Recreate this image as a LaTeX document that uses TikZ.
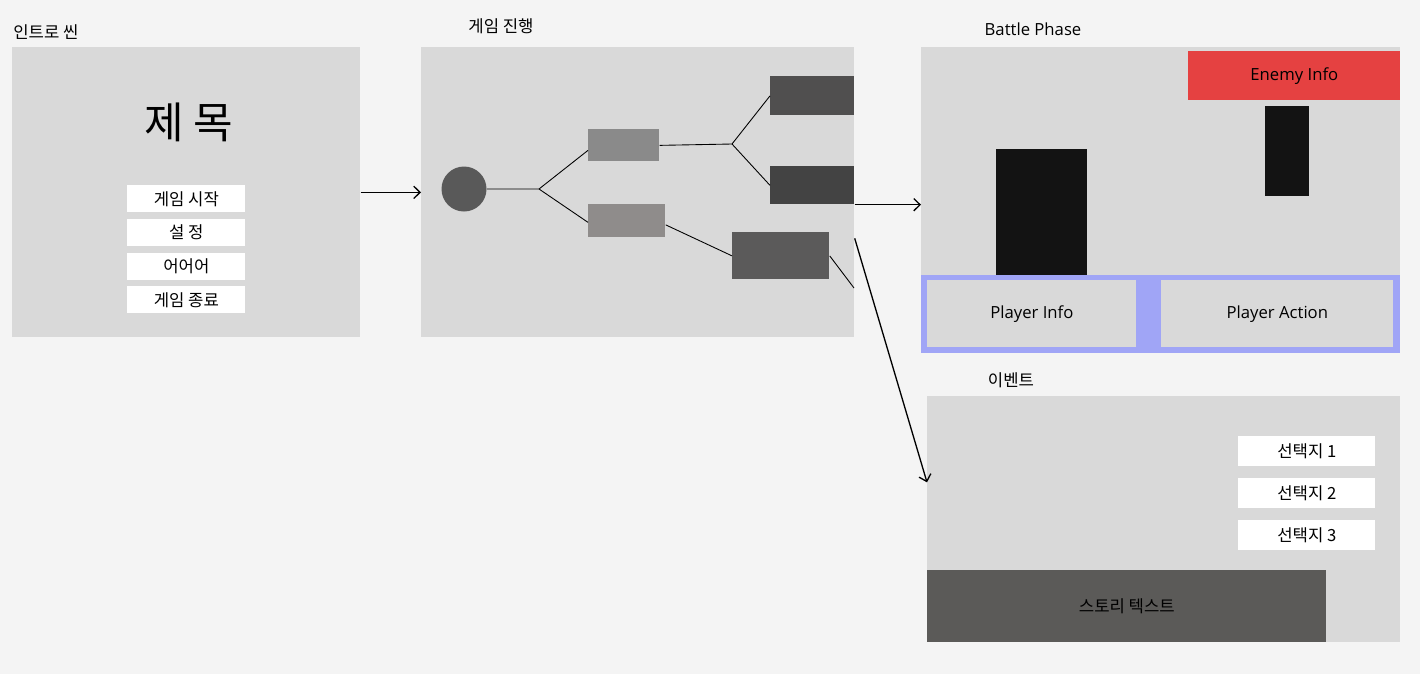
\documentclass[tikz,border=0pt]{standalone}
\usepackage{fontspec}
\setmainfont{Noto Sans CJK KR}
\newfontfamily\latin{Open Sans}
\usepackage{xcolor}
\usetikzlibrary{positioning,arrows.meta}

\definecolor{bgcol}{HTML}{F4F4F4}
\definecolor{panelcol}{HTML}{D9D9D9}
\definecolor{nodecol}{HTML}{595959}
\definecolor{branchA}{HTML}{8A8A8A}
\definecolor{branchB}{HTML}{8F8C8B}
\definecolor{leafC}{HTML}{504F4F}
\definecolor{leafD}{HTML}{434343}
\definecolor{leafE}{HTML}{5B5A5A}
\definecolor{enemycol}{HTML}{E54141}
\definecolor{playercol}{HTML}{A0A5F6}
\definecolor{unitcol}{HTML}{131313}
\definecolor{storycol}{HTML}{5B5A58}

\newcommand\lbl{\fontsize{9.5}{11}\selectfont}
\def\pxu{0.02cm}

\begin{document}
\begin{tikzpicture}[x=0.02cm, y=-0.02cm,
    panel/.style={fill=panelcol, inner sep=0pt, anchor=north west},
    blk/.style={inner sep=0pt, anchor=north west},
    btn/.style={fill=white, inner sep=0pt, minimum width=118*\pxu, font=\lbl},
    title/.style={anchor=west, inner sep=0pt, font=\lbl},
    link/.style={black, line width=0.5pt},
    flow/.style={black, line width=0.75pt, -{Straight Barb[length=3.6pt,width=7pt]}}]
    \fill[bgcol] (0,0) rectangle (1420,674);

    % intro scene
    \node[title] (introT) at (13,32) {인트로 씬};
    \node[panel, minimum width=348*\pxu, minimum height=290*\pxu] (intro) at (12,47) {};
    \node[font=\fontsize{24.5}{28}\selectfont] (name) at (189,122) {제 목};
    \node[btn, minimum height=27*\pxu, anchor=north west] (m1) at (127,185) {게임 시작};
    \node[btn, minimum height=27*\pxu, below=0.12cm of m1] (m2) {설 정};
    \node[btn, minimum height=27*\pxu, below=0.12cm of m2] (m3) {어어어};
    \node[btn, minimum height=27*\pxu, below=0.12cm of m3] (m4) {게임 종료};

    % game progress
    \node[title, anchor=center] (gameT) at (501,26) {게임 진행};
    \node[panel, minimum width=433*\pxu, minimum height=290*\pxu] (game) at (421,47) {};
    \node[circle, fill=nodecol, inner sep=0pt, minimum size=45*\pxu] (start) at (464,189) {};
    \node[blk, fill=branchA, minimum width=71*\pxu, minimum height=32*\pxu] (bA) at (588,129) {};
    \node[blk, fill=branchB, minimum width=77*\pxu, minimum height=33*\pxu] (bB) at (588,204) {};
    \node[blk, fill=leafC, minimum width=84*\pxu, minimum height=39*\pxu] (bC) at (770,76) {};
    \node[blk, fill=leafD, minimum width=84*\pxu, minimum height=38*\pxu] (bD) at (770,166) {};
    \node[blk, fill=leafE, minimum width=97*\pxu, minimum height=47*\pxu] (bE) at (732,232) {};
    \coordinate (j1) at (539,189);
    \coordinate (j2) at (732,144);
    \coordinate (cut) at (854,288);
    \draw[link] (start.east) -- (j1) -- ([yshift=-5*\pxu]bA.west);
    \draw[link] (j1) -- ([yshift=-1.5*\pxu]bB.west);
    \draw[link] (bA.east) -- (j2) -- (bC.west);
    \draw[link] (j2) -- (bD.west);
    \draw[link] ([yshift=-4*\pxu]bB.east) -- (bE.west);
    \draw[link] (bE.east) -- (cut);

    % battle phase
    \node[title, anchor=center, font=\lbl\latin] (battleT) at (1033,29) {Battle Phase};
    \node[panel, minimum width=479*\pxu, minimum height=306*\pxu] (battle) at (921,47) {};
    \node[blk, fill=enemycol, minimum width=212*\pxu, minimum height=49*\pxu, font=\lbl\latin] (enemy) at (1188,51) {Enemy Info};
    \node[blk, fill=unitcol, minimum width=44*\pxu, minimum height=90*\pxu] (foe) at (1265,106) {};
    \node[blk, fill=unitcol, minimum width=91*\pxu, minimum height=126*\pxu] (hero) at (996,149) {};
    \node[blk, fill=playercol, minimum width=479*\pxu, minimum height=78*\pxu] (bar) at (921,275) {};
    \node[blk, fill=panelcol, minimum width=209*\pxu, minimum height=67*\pxu, font=\lbl\latin] (pinfo) at (927,280) {Player Info};
    \node[blk, fill=panelcol, minimum width=232*\pxu, minimum height=67*\pxu, font=\lbl\latin] (pact) at (1161,280) {Player Action};

    % event
    \node[title, anchor=center] (eventT) at (1011,380) {이벤트};
    \node[panel, minimum width=473*\pxu, minimum height=246*\pxu] (event) at (927,396) {};
    \node[btn, minimum width=137*\pxu, minimum height=30*\pxu, anchor=north west] (c1) at (1238,436) {선택지 1};
    \node[btn, minimum width=137*\pxu, minimum height=30*\pxu, below=0.22cm of c1] (c2) {선택지 2};
    \node[btn, minimum width=137*\pxu, minimum height=30*\pxu, below=0.22cm of c2] (c3) {선택지 3};
    \node[blk, fill=storycol, minimum width=399*\pxu, minimum height=72*\pxu, font=\lbl] (story) at (927,570) {스토리 텍스트};

    % flow
    \draw[flow] (intro.east) -- (game.west);
    \draw[flow] (bD.south east) -- (bD.south east -| battle.west);
    \draw[flow] ([yshift=-46*\pxu]game.east) -- ([yshift=37*\pxu]event.west);
\end{tikzpicture}
\end{document}
